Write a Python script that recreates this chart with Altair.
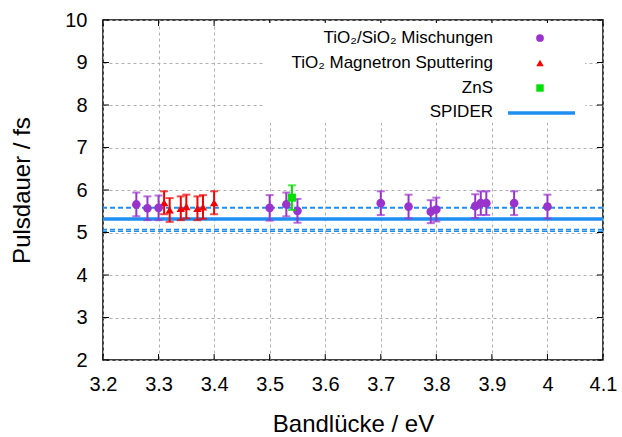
import altair as alt
import pandas as pd

# ---- data ----
mix_x = [3.26, 3.28, 3.30, 3.50, 3.53, 3.55, 3.70, 3.75, 3.79, 3.80, 3.87, 3.88, 3.89, 3.94, 4.00]
mix_y = [5.66, 5.57, 5.58, 5.58, 5.66, 5.51, 5.69, 5.61, 5.49, 5.54, 5.62, 5.69, 5.69, 5.69, 5.61]
mix_err = [0.28, 0.28, 0.29, 0.30, 0.28, 0.28, 0.28, 0.28, 0.27, 0.28, 0.28, 0.28, 0.28, 0.28, 0.28]

sput_x = [3.31, 3.32, 3.34, 3.35, 3.37, 3.38, 3.40]
sput_y = [5.70, 5.53, 5.57, 5.61, 5.57, 5.60, 5.70]
sput_err = [0.27, 0.28, 0.28, 0.28, 0.28, 0.28, 0.27]

zns_x = [3.54]
zns_y = [5.82]
zns_err = [0.29]

spider_mean = 5.32
spider_upper = [5.58]
spider_lower = [5.07, 5.03]

x_ticks = [3.2, 3.3, 3.4, 3.5, 3.6, 3.7, 3.8, 3.9, 4.0, 4.1]
y_ticks = [2, 3, 4, 5, 6, 7, 8, 9, 10]

legend_labels = ["TiO₂/SiO₂ Mischungen", "TiO₂ Magnetron Sputtering", "ZnS", "SPIDER"]

PURPLE = "#9a33cc"
RED = "#f00000"
GREEN = "#00e000"
BLUE = "#1e8ff0"
FONT = "Liberation Sans"

W, H = 500, 340

xs = alt.Scale(domain=[3.2, 4.1], nice=False, zero=False)
ys = alt.Scale(domain=[2, 10], nice=False, zero=False)


def df_series(x, y, e):
    return pd.DataFrame({"x": x, "y": y, "lo": [a - b for a, b in zip(y, e)],
                         "hi": [a + b for a, b in zip(y, e)]})


mix = df_series(mix_x, mix_y, mix_err)
sput = df_series(sput_x, sput_y, sput_err)
zns = df_series(zns_x, zns_y, zns_err)

X = alt.X("x:Q", scale=xs, axis=alt.Axis(
    values=x_ticks, title="Bandlücke / eV", format="~g", grid=True,
    gridColor="#b0b0b0", gridDash=[3, 3], gridWidth=1, tickSize=0,
    labelFontSize=20, labelFont=FONT, labelColor="black", labelPadding=14,
    labelFlush=False, labelOverlap=False,
    titleFontSize=24, titleFont=FONT, titleFontWeight="normal", titleColor="black",
    titlePadding=18, domain=False))
Y = alt.Y("y:Q", scale=ys, axis=alt.Axis(
    values=y_ticks, title="Pulsdauer / fs", grid=True,
    gridColor="#b0b0b0", gridDash=[3, 3], gridWidth=1, tickSize=0,
    labelFontSize=20, labelFont=FONT, labelColor="black", labelPadding=16,
    labelFlush=False, labelOverlap=False,
    titleFontSize=24, titleFont=FONT, titleFontWeight="normal", titleColor="black",
    titlePadding=30, domain=False))

base_grid = alt.Chart(pd.DataFrame({"x": [3.2], "y": [2]})).mark_point(opacity=0).encode(x=X, y=Y)

# SPIDER lines
spider_main = alt.Chart(pd.DataFrame({"y": [spider_mean]})).mark_rule(
    color=BLUE, strokeWidth=3.5).encode(y=alt.Y("y:Q", scale=ys))
spider_up = alt.Chart(pd.DataFrame({"y": spider_upper})).mark_rule(
    color=BLUE, strokeWidth=2, strokeDash=[5, 3]).encode(y=alt.Y("y:Q", scale=ys))
spider_lo = alt.Chart(pd.DataFrame({"y": spider_lower})).mark_rule(
    color=BLUE, strokeWidth=1.5, strokeDash=[5, 3]).encode(y=alt.Y("y:Q", scale=ys))


def series_layers(df, color, shape, size):
    c = alt.Chart(df)
    bars = c.mark_rule(color=color, strokeWidth=2).encode(
        x=alt.X("x:Q", scale=xs), y=alt.Y("lo:Q", scale=ys), y2="hi:Q")
    cap_lo = c.mark_tick(color=color, thickness=2, size=8, orient="horizontal").encode(
        x=alt.X("x:Q", scale=xs), y=alt.Y("lo:Q", scale=ys))
    cap_hi = c.mark_tick(color=color, thickness=2, size=8, orient="horizontal").encode(
        x=alt.X("x:Q", scale=xs), y=alt.Y("hi:Q", scale=ys))
    pts = c.mark_point(color=color, filled=True, opacity=1, shape=shape, size=size).encode(
        x=alt.X("x:Q", scale=xs), y=alt.Y("y:Q", scale=ys))
    return [bars, cap_lo, cap_hi, pts]


# inward ticks (mirrored on all four sides)
xt = pd.DataFrame({"x": x_ticks})
yt = pd.DataFrame({"y": y_ticks})
tick_bottom = alt.Chart(xt).mark_rule(color="black", strokeWidth=1).encode(
    x=alt.X("x:Q", scale=xs), y=alt.value(H), y2=alt.value(H - 6))
tick_top = alt.Chart(xt).mark_rule(color="black", strokeWidth=1).encode(
    x=alt.X("x:Q", scale=xs), y=alt.value(0), y2=alt.value(6))
tick_left = alt.Chart(yt).mark_rule(color="black", strokeWidth=1).encode(
    y=alt.Y("y:Q", scale=ys), x=alt.value(0), x2=alt.value(6))
tick_right = alt.Chart(yt).mark_rule(color="black", strokeWidth=1).encode(
    y=alt.Y("y:Q", scale=ys), x=alt.value(W), x2=alt.value(W - 6))

# legend box
one = pd.DataFrame({"a": [0]})
legend_bg = alt.Chart(one).mark_rect(color="white").encode(
    x=alt.value(160), x2=alt.value(482), y=alt.value(3), y2=alt.value(103))

leg_rows_y = [18, 43, 68, 92]
leg_texts = [
    alt.Chart(one).mark_text(align="right", baseline="middle", font=FONT, fontSize=17,
                             color="black", text=lab).encode(
        x=alt.value(390), y=alt.value(ry))
    for lab, ry in zip(legend_labels, leg_rows_y)
]

leg_mix = alt.Chart(one).mark_point(
    color=PURPLE, filled=True, opacity=1, shape="circle", size=60).encode(
    x=alt.value(437), y=alt.value(leg_rows_y[0]))
leg_sput = alt.Chart(one).mark_point(
    color=RED, filled=True, opacity=1, shape="triangle-up", size=55).encode(
    x=alt.value(437), y=alt.value(leg_rows_y[1]))
leg_zns = alt.Chart(one).mark_point(
    color=GREEN, filled=True, opacity=1, shape="square", size=55).encode(
    x=alt.value(437), y=alt.value(leg_rows_y[2]))
leg_spider = alt.Chart(one).mark_rule(
    color=BLUE, strokeWidth=3.5).encode(
    x=alt.value(405), x2=alt.value(472), y=alt.value(leg_rows_y[3] + 1))

layers = [base_grid, spider_lo, spider_up, spider_main]
layers += series_layers(sput, RED, "triangle-up", 70)
layers += series_layers(mix, PURPLE, "circle", 75)
layers += series_layers(zns, GREEN, "square", 65)
layers += [tick_bottom, tick_top, tick_left, tick_right, legend_bg]
layers += leg_texts
layers += [leg_mix, leg_sput, leg_zns, leg_spider]

chart = alt.layer(*layers).properties(
    width=W, height=H,
    autosize=alt.AutoSizeParams(type="none"),
    padding={"left": 103, "top": 20, "right": 19, "bottom": 77},
    background="white",
).configure_view(stroke="black", strokeWidth=1.5)

chart.save("out.html", embed_options={"renderer": "svg", "actions": False})
